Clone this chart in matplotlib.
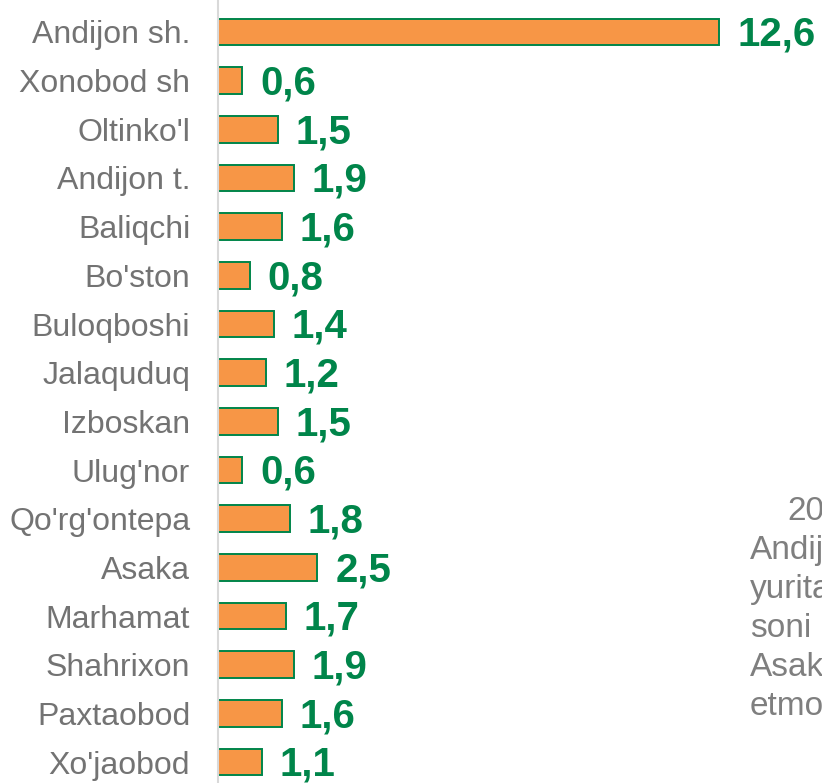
import matplotlib

matplotlib.use("Agg")
import matplotlib.pyplot as plt

districts = [
  "Andijon sh.", "Xonobod sh", "Oltinko'l", "Andijon t.", "Baliqchi", "Bo'ston",
  "Buloqboshi", "Jalaquduq", "Izboskan", "Ulug'nor", "Qo'rg'ontepa", "Asaka",
  "Marhamat", "Shahrixon", "Paxtaobod", "Xo'jaobod",
]
values = [12.6, 0.6, 1.5, 1.9, 1.6, 0.8, 1.4, 1.2, 1.5, 0.6, 1.8, 2.5, 1.7, 1.9, 1.6, 1.1]
side_text = ["20", "Andij", "yurita", "soni", "Asak", "etmo"]

ORANGE = "#F79646"
GREEN = "#00854A"
GRAY = "#737373"

plt.rcParams["font.family"] = ["Liberation Sans", "DejaVu Sans"]

fig = plt.figure(figsize=(8.22, 7.83), dpi=100)
ax = fig.add_axes([218 / 822, 0.0, 1 - 218 / 822, 1.0])

rows = list(range(len(districts)))
ax.barh(rows, values, height=0.55, color=ORANGE, edgecolor=GREEN, linewidth=1.4)

for row, value in zip(rows, values):
  ax.annotate(
    f"{value:.1f}".replace(".", ","),
    xy=(value, row), xytext=(13, -10), textcoords="offset points",
    va="baseline", ha="left", fontsize=29, fontweight="bold", color=GREEN,
  )

ax.set_xlim(0, 15.19)
ax.set_ylim(15.43, -0.657)
ax.set_yticks(rows)
ax.set_yticklabels(districts, fontsize=23, color=GRAY)
ax.tick_params(axis="y", length=0, pad=20)
ax.set_xticks([])
for side in ["top", "right", "bottom"]:
  ax.spines[side].set_visible(False)
ax.spines["left"].set_color("#D9D9D9")
ax.spines["left"].set_linewidth(1.5)

# text box at the right edge, cut off by the figure border
baselines = [520, 559, 598, 637, 676, 715]
lefts = [787, 750, 750, 750, 750, 750]
for line, x_px, y_px in zip(side_text, lefts, baselines):
  fig.text(x_px / 822, 1 - y_px / 783, line, fontsize=24, color="#7F7F7F",
           ha="left", va="baseline")

fig.savefig("out.png", dpi=100)
